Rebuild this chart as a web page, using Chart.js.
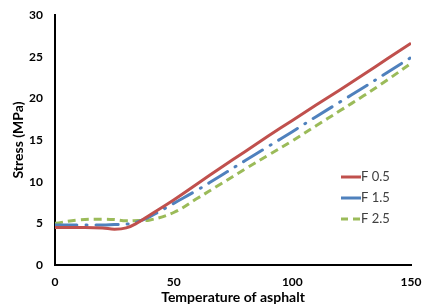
<!DOCTYPE html>
<html>
<head>
<meta charset="utf-8">
<script src="https://cdn.jsdelivr.net/npm/chart.js@4"></script>
<style>
html,body{margin:0;padding:0;background:#fff;}
#wrap{width:425px;height:306px;position:relative;}
</style>
</head>
<body>
<div id="wrap"><canvas id="c" width="425" height="306"></canvas></div>
<script>
const temps = [0, 10, 20, 25, 30, 35, 40, 50, 60, 70, 80, 90, 100, 110, 120, 130, 140, 150];
const f05 = [4.5, 4.5, 4.45, 4.3, 4.45, 5.1, 6.0, 7.8, 9.75, 11.7, 13.6, 15.5, 17.35, 19.2, 21.0, 22.85, 24.75, 26.6];
const f15 = [4.8, 4.8, 4.8, 4.85, 4.9, 5.2, 5.8, 7.4, 9.0, 10.75, 12.5, 14.25, 16.0, 17.8, 19.55, 21.3, 23.1, 24.9];
const f25 = [5.0, 5.4, 5.5, 5.45, 5.3, 5.35, 5.4, 6.3, 8.0, 9.75, 11.5, 13.2, 14.9, 16.7, 18.5, 20.3, 22.2, 24.2];
const seriesNames = ['F 0.5', 'F 1.5', 'F 2.5'];
const xTicks = [0, 50, 100, 150];
const yTicks = [0, 5, 10, 15, 20, 25, 30];

const pts = arr => temps.map((t, i) => ({x: t, y: arr[i]}));
const FONT = 'Lato, "Open Sans", sans-serif';

const legendPlugin = {
  id: 'customLegend',
  afterDraw(chart) {
    const ctx = chart.ctx;
    const x0 = 341, y0 = 177, step = 21;
    chart.data.datasets.forEach((ds, i) => {
      const y = y0 + i * step;
      ctx.save();
      ctx.strokeStyle = ds.borderColor;
      ctx.lineWidth = 3;
      ctx.setLineDash(i === 2 ? [7, 5] : []);
      ctx.beginPath();
      ctx.moveTo(x0, y);
      ctx.lineTo(x0 + 20, y);
      ctx.stroke();
      ctx.setLineDash([]);
      ctx.fillStyle = '#404040';
      ctx.font = '13px ' + FONT;
      ctx.textBaseline = 'middle';
      ctx.textAlign = 'left';
      ctx.fillText(ds.label, x0 + 20, y);
      ctx.restore();
    });
  }
};

new Chart(document.getElementById('c'), {
  type: 'line',
  data: {
    datasets: [
      {label: seriesNames[0], data: pts(f05), borderColor: '#C0504D', borderWidth: 3, pointRadius: 0, tension: 0.4, fill: false},
      {label: seriesNames[1], data: pts(f15), borderColor: '#4F81BD', borderWidth: 3, borderDash: [22, 9, 1, 9], borderCapStyle: 'round', pointRadius: 0, tension: 0.4, fill: false},
      {label: seriesNames[2], data: pts(f25), borderColor: '#9BBB59', borderWidth: 3, borderDash: [8, 5], pointRadius: 0, tension: 0.4, fill: false}
    ]
  },
  options: {
    responsive: false,
    animation: false,
    layout: {padding: {top: 15, right: 14, left: 10, bottom: 0}},
    plugins: {legend: {display: false}, tooltip: {enabled: false}},
    scales: {
      x: {
        type: 'linear', min: 0, max: 150,
        afterBuildTicks: s => { s.ticks = xTicks.map(v => ({value: v})); },
        afterFit: s => { s.height = 41; s.paddingLeft = 0; s.paddingRight = 0; },
        grid: {display: false, drawTicks: false},
        border: {display: true, color: '#000', width: 2},
        ticks: {color: '#000', font: {family: FONT, size: 12, weight: 'bold'}, padding: 10, maxRotation: 0},
        title: {display: true, text: 'Temperature of asphalt', color: '#000', font: {family: FONT, size: 14, weight: 'bold'}, padding: {top: 0, bottom: 0}}
      },
      y: {
        min: 0, max: 30,
        afterBuildTicks: s => { s.ticks = yTicks.map(v => ({value: v})); },
        afterFit: s => { s.width = 45; s.paddingTop = 0; s.paddingBottom = 0; },
        grid: {display: false, drawTicks: false},
        border: {display: true, color: '#000', width: 2},
        ticks: {color: '#000', font: {family: FONT, size: 12, weight: 'bold'}, padding: 12},
        title: {display: true, text: 'Stress (MPa)', color: '#000', font: {family: FONT, size: 14, weight: 'bold'}, padding: {top: 0, bottom: 0}}
      }
    }
  },
  plugins: [legendPlugin]
});
</script>
</body>
</html>
